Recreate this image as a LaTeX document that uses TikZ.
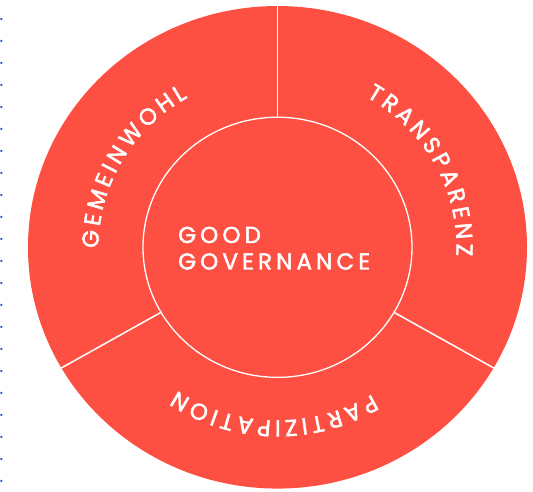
\documentclass[tikz,border=0pt]{standalone}
\usepackage{fontspec}
\usetikzlibrary{decorations.text}
\newfontfamily\ringfont{Poppins}[FakeBold=2]
\newfontfamily\corefont{Poppins}[LetterSpace=18,FakeBold=2]
\definecolor{ringred}{HTML}{FE5042}
\definecolor{dotblue}{HTML}{2F5BD3}
\newcommand{\ls}{\kern3.8pt}
\tikzset{
  divider/.style={draw=white, line width=1.5pt},
  ringtext/.style={decorate, decoration={text along path, text align=center, text color=white}},
  coretext/.style={text=white, font=\corefont\fontsize{23}{23}\selectfont, inner sep=0pt, anchor=base west},
}
\begin{document}
\begin{tikzpicture}[x=1pt, y=1pt]
\useasboundingbox[fill=white] (0,0) rectangle (533,492);
% blue dotted margin line
\foreach \k in {0,...,21} \fill[dotblue] (1.3,{492-19-22*\k}) circle (1.3pt);
\begin{scope}[shift={(277.5,244.7)}, yscale=0.967]
  \fill[ringred] (0,0) circle (249.5);
  \coordinate (c) at (0,0);
  \coordinate (i90) at (90:134.5);   \coordinate (o90) at (90:250);
  \coordinate (i210) at (210:134.5); \coordinate (o210) at (210:250);
  \coordinate (i330) at (330:134.5); \coordinate (o330) at (330:250);
  \draw[divider] (i90) -- (o90);
  \draw[divider] (i210) -- (o210);
  \draw[divider] (i330) -- (o330);
  \draw[draw=white, line width=1.3pt] (c) circle (134.5);
  \path[ringtext, decoration={text={|\ringfont\fontsize{23}{23}\selectfont|{G\ls}{E\ls}{M\ls}{E\ls}{I\ls}{N\ls}{W\ls}{O\ls}{H\ls}L}}]
    (210.65:179) arc[start angle=210.65, end angle=90.65, radius=179];
  \path[ringtext, decoration={text={|\ringfont\fontsize{23}{23}\selectfont|{T\ls}{R\ls}{A\ls}{N\ls}{S\ls}{P\ls}{A\ls}{R\ls}{E\ls}{N\ls}Z}}]
    (88.35:179) arc[start angle=88.35, end angle=-31.65, radius=179];
  \path[ringtext, decoration={text={|\ringfont\fontsize{23}{23}\selectfont|{P\ls}{A\ls}{R\ls}{T\ls}{I\ls}{Z\ls}{I\ls}{P\ls}{A\ls}{T\ls}{I\ls}{O\ls}N}}]
    (-31.15:179) arc[start angle=-31.15, end angle=-151.15, radius=179];
\end{scope}
\node[coretext] (good) at (178,{492-243}) {GOOD};
\node[coretext] (gov) at (178,{492-269.5}) {GOVERNANCE};
\end{tikzpicture}
\end{document}
